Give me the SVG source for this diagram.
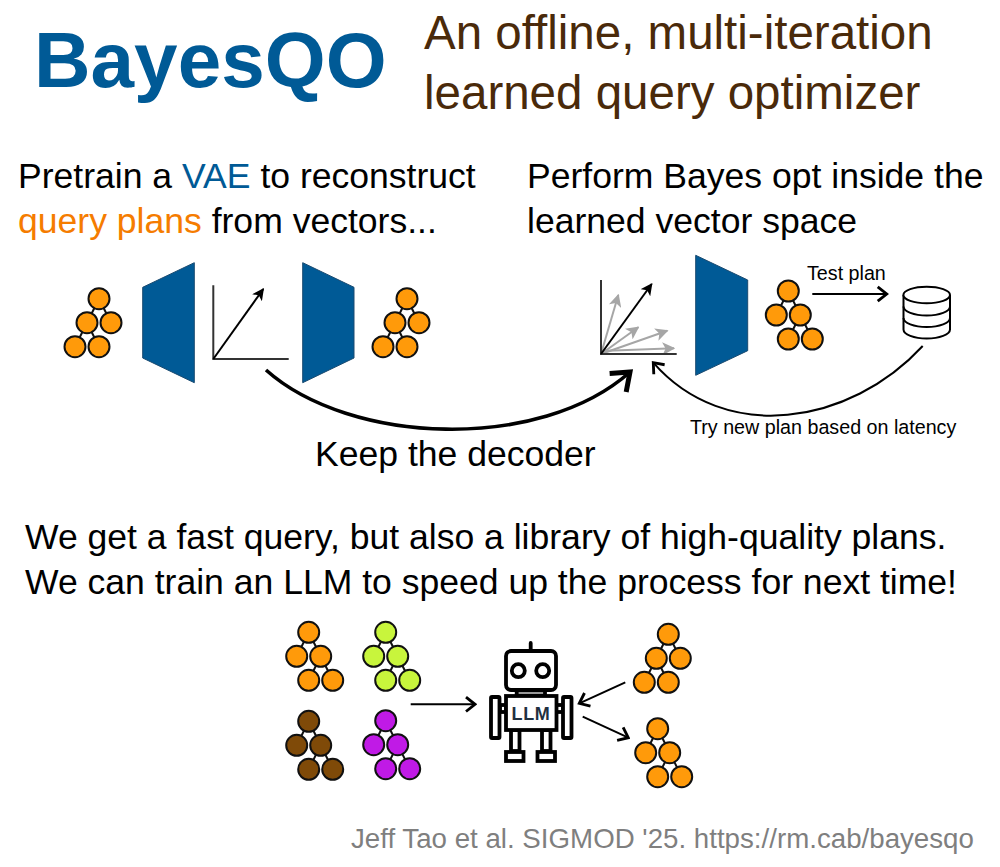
<svg xmlns="http://www.w3.org/2000/svg" width="1000" height="867" viewBox="0 0 1000 867">
<style>
text{font-family:"Liberation Sans",Arial,sans-serif;fill:#000}
.big{font-size:35.55px}
.mid{font-size:19.7px}
.title{font-size:47.5px;fill:#4a2a0a}
.blue{fill:#005a96}
.orange{fill:#f57c00}
.trap{fill:#005a96;stroke:#1a4a70;stroke-width:1}
.n{stroke:#111;stroke-width:2}
.e{stroke:#111;stroke-width:2;fill:none}
.or{fill:#ff9a0a}.li{fill:#c8f53c}.br{fill:#7f4a08}.pu{fill:#c01ae6}
.ln{fill:none;stroke:#000;stroke-width:2}
.ax{fill:none;stroke:#333;stroke-width:2}
.rb{fill:#fff;stroke:#000;stroke-width:3.8}
.gr{fill:none;stroke:#a6a6a6;stroke-width:2}
</style>
<defs>
<g id="treeL"><path class="e" d="M0 0L-12 24M0 0L12 24M-12 24L-24 48M-12 24L0 48"/><circle class="n" r="10.5"/><circle class="n" cx="-12" cy="24" r="10.5"/><circle class="n" cx="12" cy="24" r="10.5"/><circle class="n" cx="-24" cy="48" r="10.5"/><circle class="n" cy="48" r="10.5"/></g>
<g id="treeR"><path class="e" d="M0 0L-12 24M0 0L12 24M12 24L0 48M12 24L24 48"/><circle class="n" r="10.5"/><circle class="n" cx="-12" cy="24" r="10.5"/><circle class="n" cx="12" cy="24" r="10.5"/><circle class="n" cy="48" r="10.5"/><circle class="n" cx="24" cy="48" r="10.5"/></g>
<marker id="tri" viewBox="0 0 10 10" refX="9" refY="5" markerWidth="6" markerHeight="6" markerUnits="strokeWidth" orient="auto"><path d="M0 0L10 5L0 10L2.5 5Z" fill="#000"/></marker>
<marker id="triG" viewBox="0 0 10 10" refX="9" refY="5" markerWidth="6.5" markerHeight="6.5" markerUnits="strokeWidth" orient="auto"><path d="M0 0L10 5L0 10L2.5 5Z" fill="#a6a6a6"/></marker>
<marker id="chev" viewBox="0 0 12 12" refX="10.5" refY="6" markerWidth="9" markerHeight="9" markerUnits="strokeWidth" orient="auto"><path d="M4.5 1.2L10.5 6L4.5 10.8" fill="none" stroke="#000" stroke-width="1.9"/></marker>
<marker id="chevB" viewBox="0 0 12 12" refX="10.5" refY="6" markerWidth="8.3" markerHeight="8.3" markerUnits="strokeWidth" orient="auto"><path d="M4 1L10.5 6L4 11" fill="none" stroke="#000" stroke-width="2"/></marker>
</defs>
<rect width="1000" height="867" fill="#fff"/>
<g id="titles">
<text x="34" y="87" font-size="78.3" font-weight="bold" class="blue">BayesQO</text>
<text class="title" x="424" y="49">An offline, multi-iteration</text>
<text class="title" x="424" y="109">learned query optimizer</text>
<text class="big" x="18" y="188">Pretrain a <tspan class="blue">VAE</tspan> to reconstruct</text>
<text class="big" x="18" y="233"><tspan class="orange">query plans</tspan> from vectors...</text>
<text class="big" x="527" y="188">Perform Bayes opt inside the</text>
<text class="big" x="527" y="233">learned vector space</text>
<text class="big" x="315" y="466">Keep the decoder</text>
<text class="big" x="25" y="549">We get a fast query, but also a library of high-quality plans.</text>
<text class="big" x="25" y="594">We can train an LLM to speed up the process for next time!</text>
<text class="mid" x="807" y="280">Test plan</text>
<text class="mid" x="690" y="434">Try new plan based on latency</text>
<text x="351" y="848" font-size="27.7" style="fill:#7f7f7f">Jeff Tao et al. SIGMOD '25. https://rm.cab/bayesqo</text>
</g>
<g id="encoder"><polygon class="trap" points="142.7,287.3 194.3,262.7 194.3,382.7 142.7,358"/></g>
<g id="decoder"><polygon class="trap" points="302.7,262.7 354,287.3 354,358 302.7,382.7"/></g>
<g id="decoder2"><polygon class="trap" points="695.7,255.3 747.7,280 747.7,350.7 695.7,375.3"/></g>
<g id="plan-in"><use href="#treeL" x="99" y="298.7" class="or"/></g>
<g id="plan-out"><use href="#treeL" x="407" y="298.7" class="or"/></g>
<g id="plan-gen"><use href="#treeR" x="788.3" y="291" class="or"/></g>
<g id="lib-orange"><use href="#treeR" x="308.7" y="632.3" class="or"/></g>
<g id="lib-lime"><use href="#treeR" x="385.7" y="632.3" class="li"/></g>
<g id="lib-brown"><use href="#treeR" x="308.7" y="721.3" class="br"/></g>
<g id="lib-purple"><use href="#treeR" x="385.7" y="720.7" class="pu"/></g>
<g id="out-top"><use href="#treeL" x="668.3" y="634.3" class="or"/></g>
<g id="out-bottom"><use href="#treeR" x="657.7" y="728.7" class="or"/></g>
<g id="latent-space">
<path class="ax" d="M213.3 285.3V359H288.7"/>
<path class="ln" d="M213.3 359L263.3 289" marker-end="url(#tri)"/>
</g>
<g id="search-space">
<path class="gr" d="M601 354L618.3 295" marker-end="url(#triG)"/>
<path class="gr" d="M601 354L638.3 327.3" marker-end="url(#triG)"/>
<path class="gr" d="M601 354L667.3 330.7" marker-end="url(#triG)"/>
<path class="gr" d="M601 351L674 348.3" marker-end="url(#triG)"/>
<path class="ax" d="M601 280V354H676.7"/>
<path class="ln" d="M601 354L651.7 284" marker-end="url(#tri)"/>
</g>
<g id="database">
<path fill="#fff" stroke="#000" stroke-width="2" d="M903.5 295V329.5C903.5 334.5 914 338.5 926.7 338.5S950 334.5 950 329.5V295"/>
<ellipse cx="926.7" cy="295" rx="23.3" ry="8.3" fill="#fff" stroke="#000" stroke-width="2"/>
<path fill="none" stroke="#000" stroke-width="2" d="M903.5 306.5C903.5 311.5 914 315.5 926.7 315.5S950 311.5 950 306.5M903.5 318C903.5 323 914 327 926.7 327S950 323 950 318"/>
</g>
<g id="robot">
<path class="rb" d="M530.7 643V650" stroke-linecap="round"/>
<rect class="rb" x="506" y="651" width="50" height="39" rx="5"/>
<circle class="rb" cx="518.3" cy="670.7" r="6.5"/>
<circle class="rb" cx="542.7" cy="670.7" r="6.5"/>
<rect class="rb" x="516.7" y="690.5" width="28.3" height="5"/>
<rect class="rb" x="500" y="705" width="6" height="7"/>
<rect class="rb" x="556" y="705" width="7" height="7"/>
<rect class="rb" x="491" y="697" width="8.5" height="41" rx="1"/>
<rect class="rb" x="563" y="697" width="8.5" height="41" rx="1"/>
<rect class="rb" x="511" y="730" width="8.5" height="21"/>
<rect class="rb" x="542" y="730" width="8.5" height="21"/>
<rect class="rb" x="506" y="752" width="17.5" height="9"/>
<rect class="rb" x="537.5" y="752" width="17.5" height="9"/>
<rect class="rb" x="506" y="696" width="50.5" height="34"/>
<text x="531" y="719.5" text-anchor="middle" font-size="18" font-weight="bold" letter-spacing="0.6" style="fill:#1f3040">LLM</text>
</g>
<g id="connectors">
<path d="M266 370C350 445 540 452 630 372" fill="none" stroke="#000" stroke-width="3.6" marker-end="url(#chevB)"/>
<path d="M922.7 346C850 425 725 445 653.3 362.7" class="ln" marker-end="url(#chev)"/>
<path d="M812.3 294H886.7" class="ln" marker-end="url(#chev)"/>
<path d="M410.7 704.3H475" class="ln" marker-end="url(#chev)"/>
<path d="M625.3 682.3L579.3 703.3" class="ln" marker-end="url(#chev)"/>
<path d="M582.7 716.7L628.3 737.7" class="ln" marker-end="url(#chev)"/>
</g>
</svg>
